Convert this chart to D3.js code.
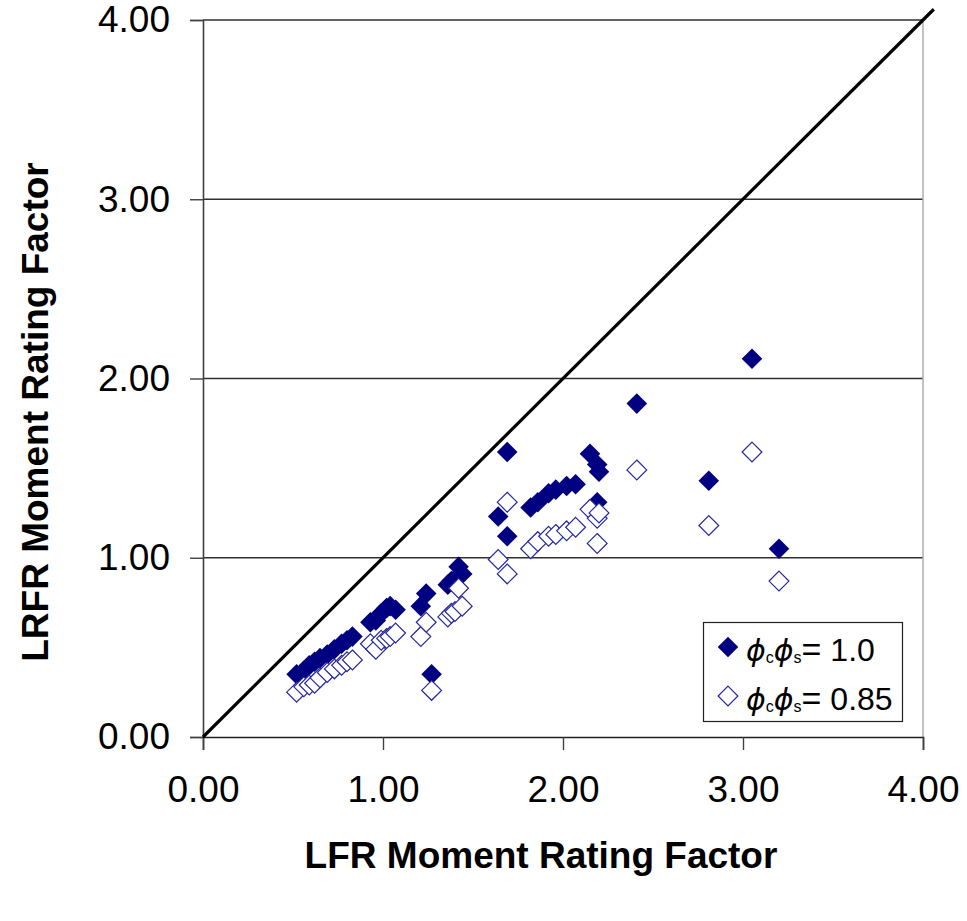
<!DOCTYPE html>
<html>
<head>
<meta charset="utf-8">
<script src="https://cdn.jsdelivr.net/npm/d3@7"></script>
<style>
  body { margin: 0; background: #fff; }
  svg { display: block; }
  text { font-family: "Liberation Sans", Arial, sans-serif; }
</style>
</head>
<body>
<svg id="chart" width="967" height="921"></svg>
<script>
// ---- data ----
const lfr = [0.52, 0.56, 0.59, 0.62, 0.65, 0.69, 0.73, 0.77, 0.80, 0.83,
             0.93, 0.96, 0.99, 1.02, 1.04, 1.07,
             1.21, 1.24, 1.27, 1.36, 1.38, 1.40, 1.42, 1.44,
             1.64, 1.69, 1.69, 1.82, 1.86, 1.92, 1.96, 2.02, 2.07, 2.15, 2.19, 2.20, 2.19,
             2.41, 2.81, 3.05, 3.20];
const lrfr10 = [0.35, 0.37, 0.40, 0.42, 0.44, 0.46, 0.49, 0.52, 0.54, 0.56,
                0.64, 0.65, 0.69, 0.72, 0.73, 0.71,
                0.73, 0.80, 0.35, 0.85, 0.87, 0.88, 0.95, 0.91,
                1.23, 1.59, 1.12, 1.28, 1.31, 1.36, 1.38, 1.40, 1.41, 1.58, 1.52, 1.48, 1.31,
                1.86, 1.43, 2.11, 1.05];
const lrfr085 = [0.25, 0.28, 0.29, 0.30, 0.33, 0.36, 0.38, 0.40, 0.42, 0.43,
                 0.52, 0.49, 0.54, 0.55, 0.56, 0.58,
                 0.56, 0.64, 0.26, 0.67, 0.69, 0.70, 0.83, 0.73,
                 0.99, 1.31, 0.91, 1.05, 1.09, 1.12, 1.13, 1.15, 1.17, 1.27, 1.22, 1.25, 1.08,
                 1.49, 1.18, 1.59, 0.87];
const tickValues = [0, 1, 2, 3, 4];
const xTitle = "LFR Moment Rating Factor";
const yTitle = "LRFR Moment Rating Factor";
const legendValues = ["1.0", "0.85"];

// ---- layout ----
const svg = d3.select("#chart");
const x = d3.scaleLinear().domain([0, 4]).range([203, 923]);
const y = d3.scaleLinear().domain([0, 4]).range([737, 20]);
const fmt = d3.format(".2f");
const navy = "#000080";

// gridlines
svg.append("g").selectAll("line").data(tickValues.filter(d => d > 0)).join("line")
  .attr("x1", x(0)).attr("x2", x(4))
  .attr("y1", d => y(d)).attr("y2", d => y(d))
  .attr("stroke", "#303030").attr("stroke-width", 1.4);

// right border
svg.append("line").attr("x1", x(4)).attr("x2", x(4)).attr("y1", y(4)).attr("y2", y(0))
  .attr("stroke", "#a8a8a8").attr("stroke-width", 1.4);

// y axis
const yAxis = d3.axisLeft(y).tickValues(tickValues).tickFormat(fmt).tickSize(13).tickPadding(20);
const gy = svg.append("g").attr("transform", `translate(${x(0)},0)`).call(yAxis);
gy.select(".domain").attr("stroke", "#404040").attr("stroke-width", 1.6);
gy.selectAll(".tick line").attr("stroke", "#404040").attr("stroke-width", 1.4);
gy.selectAll(".tick text").attr("font-size", 37).attr("fill", "#000")
  .attr("font-family", "Liberation Sans, Arial, sans-serif");

// x axis
const xAxis = d3.axisBottom(x).tickValues(tickValues).tickFormat(fmt).tickSize(13).tickPadding(26);
const gx = svg.append("g").attr("transform", `translate(0,${y(0)})`).call(xAxis);
gx.select(".domain").attr("stroke", "#202020").attr("stroke-width", 1.6);
gx.selectAll(".tick line").attr("stroke", "#404040").attr("stroke-width", 1.4);
gx.selectAll(".tick text").attr("font-size", 37).attr("fill", "#000")
  .attr("font-family", "Liberation Sans, Arial, sans-serif");

// diagonal 1:1 line
svg.append("line")
  .attr("x1", x(0)).attr("y1", y(0))
  .attr("x2", x(4.06)).attr("y2", y(4.06))
  .attr("stroke", "#000").attr("stroke-width", 3.2);

// markers
const diamond = d3.symbol().type(d3.symbolDiamond2);
const filledPath = diamond.size(270)();
const openPath = diamond.size(250)();

const pts = lfr.map((v, i) => ({ x: v, y1: lrfr10[i], y2: lrfr085[i] }));

svg.append("g").selectAll("path").data(pts).join("path")
  .attr("d", filledPath)
  .attr("transform", d => `translate(${x(d.x)},${y(d.y1)})`)
  .attr("fill", navy);

svg.append("g").selectAll("path").data(pts).join("path")
  .attr("d", openPath)
  .attr("transform", d => `translate(${x(d.x)},${y(d.y2)})`)
  .attr("fill", "#fff").attr("stroke", "#2626a0").attr("stroke-width", 1.2);

// legend
const lg = svg.append("g");
lg.append("rect").attr("x", 703.5).attr("y", 622.5).attr("width", 199).attr("height", 99)
  .attr("fill", "#fff").attr("stroke", "#222").attr("stroke-width", 1.2);
lg.append("path").attr("d", filledPath).attr("transform", "translate(728,647)").attr("fill", navy);
lg.append("path").attr("d", openPath).attr("transform", "translate(728,696)")
  .attr("fill", "#fff").attr("stroke", "#2626a0").attr("stroke-width", 1.2);

[661, 710].forEach((by, i) => {
  const t = lg.append("text").attr("x", 746).attr("y", by).attr("font-size", 32).attr("fill", "#000");
  t.append("tspan").text("ϕ").attr("font-style", "italic").attr("font-family", "DejaVu Sans, sans-serif").attr("font-size", 30);
  t.append("tspan").text("c").attr("font-size", 16).attr("dy", 2);
  t.append("tspan").text("ϕ").attr("font-style", "italic").attr("font-family", "DejaVu Sans, sans-serif").attr("font-size", 30).attr("dy", -2);
  t.append("tspan").text("s").attr("font-size", 16).attr("dy", 2);
  t.append("tspan").text("=").attr("font-size", 34).attr("dy", -2);
  t.append("tspan").text(" " + legendValues[i]).attr("font-size", 32);
});

// axis titles
svg.append("text").attr("x", 541).attr("y", 868).attr("text-anchor", "middle")
  .attr("font-size", 37).attr("font-weight", "bold").attr("fill", "#000").text(xTitle);
svg.append("text").attr("transform", "translate(48,412) rotate(-90)").attr("text-anchor", "middle")
  .attr("font-size", 37).attr("font-weight", "bold").attr("fill", "#000").text(yTitle);
</script>
</body>
</html>
